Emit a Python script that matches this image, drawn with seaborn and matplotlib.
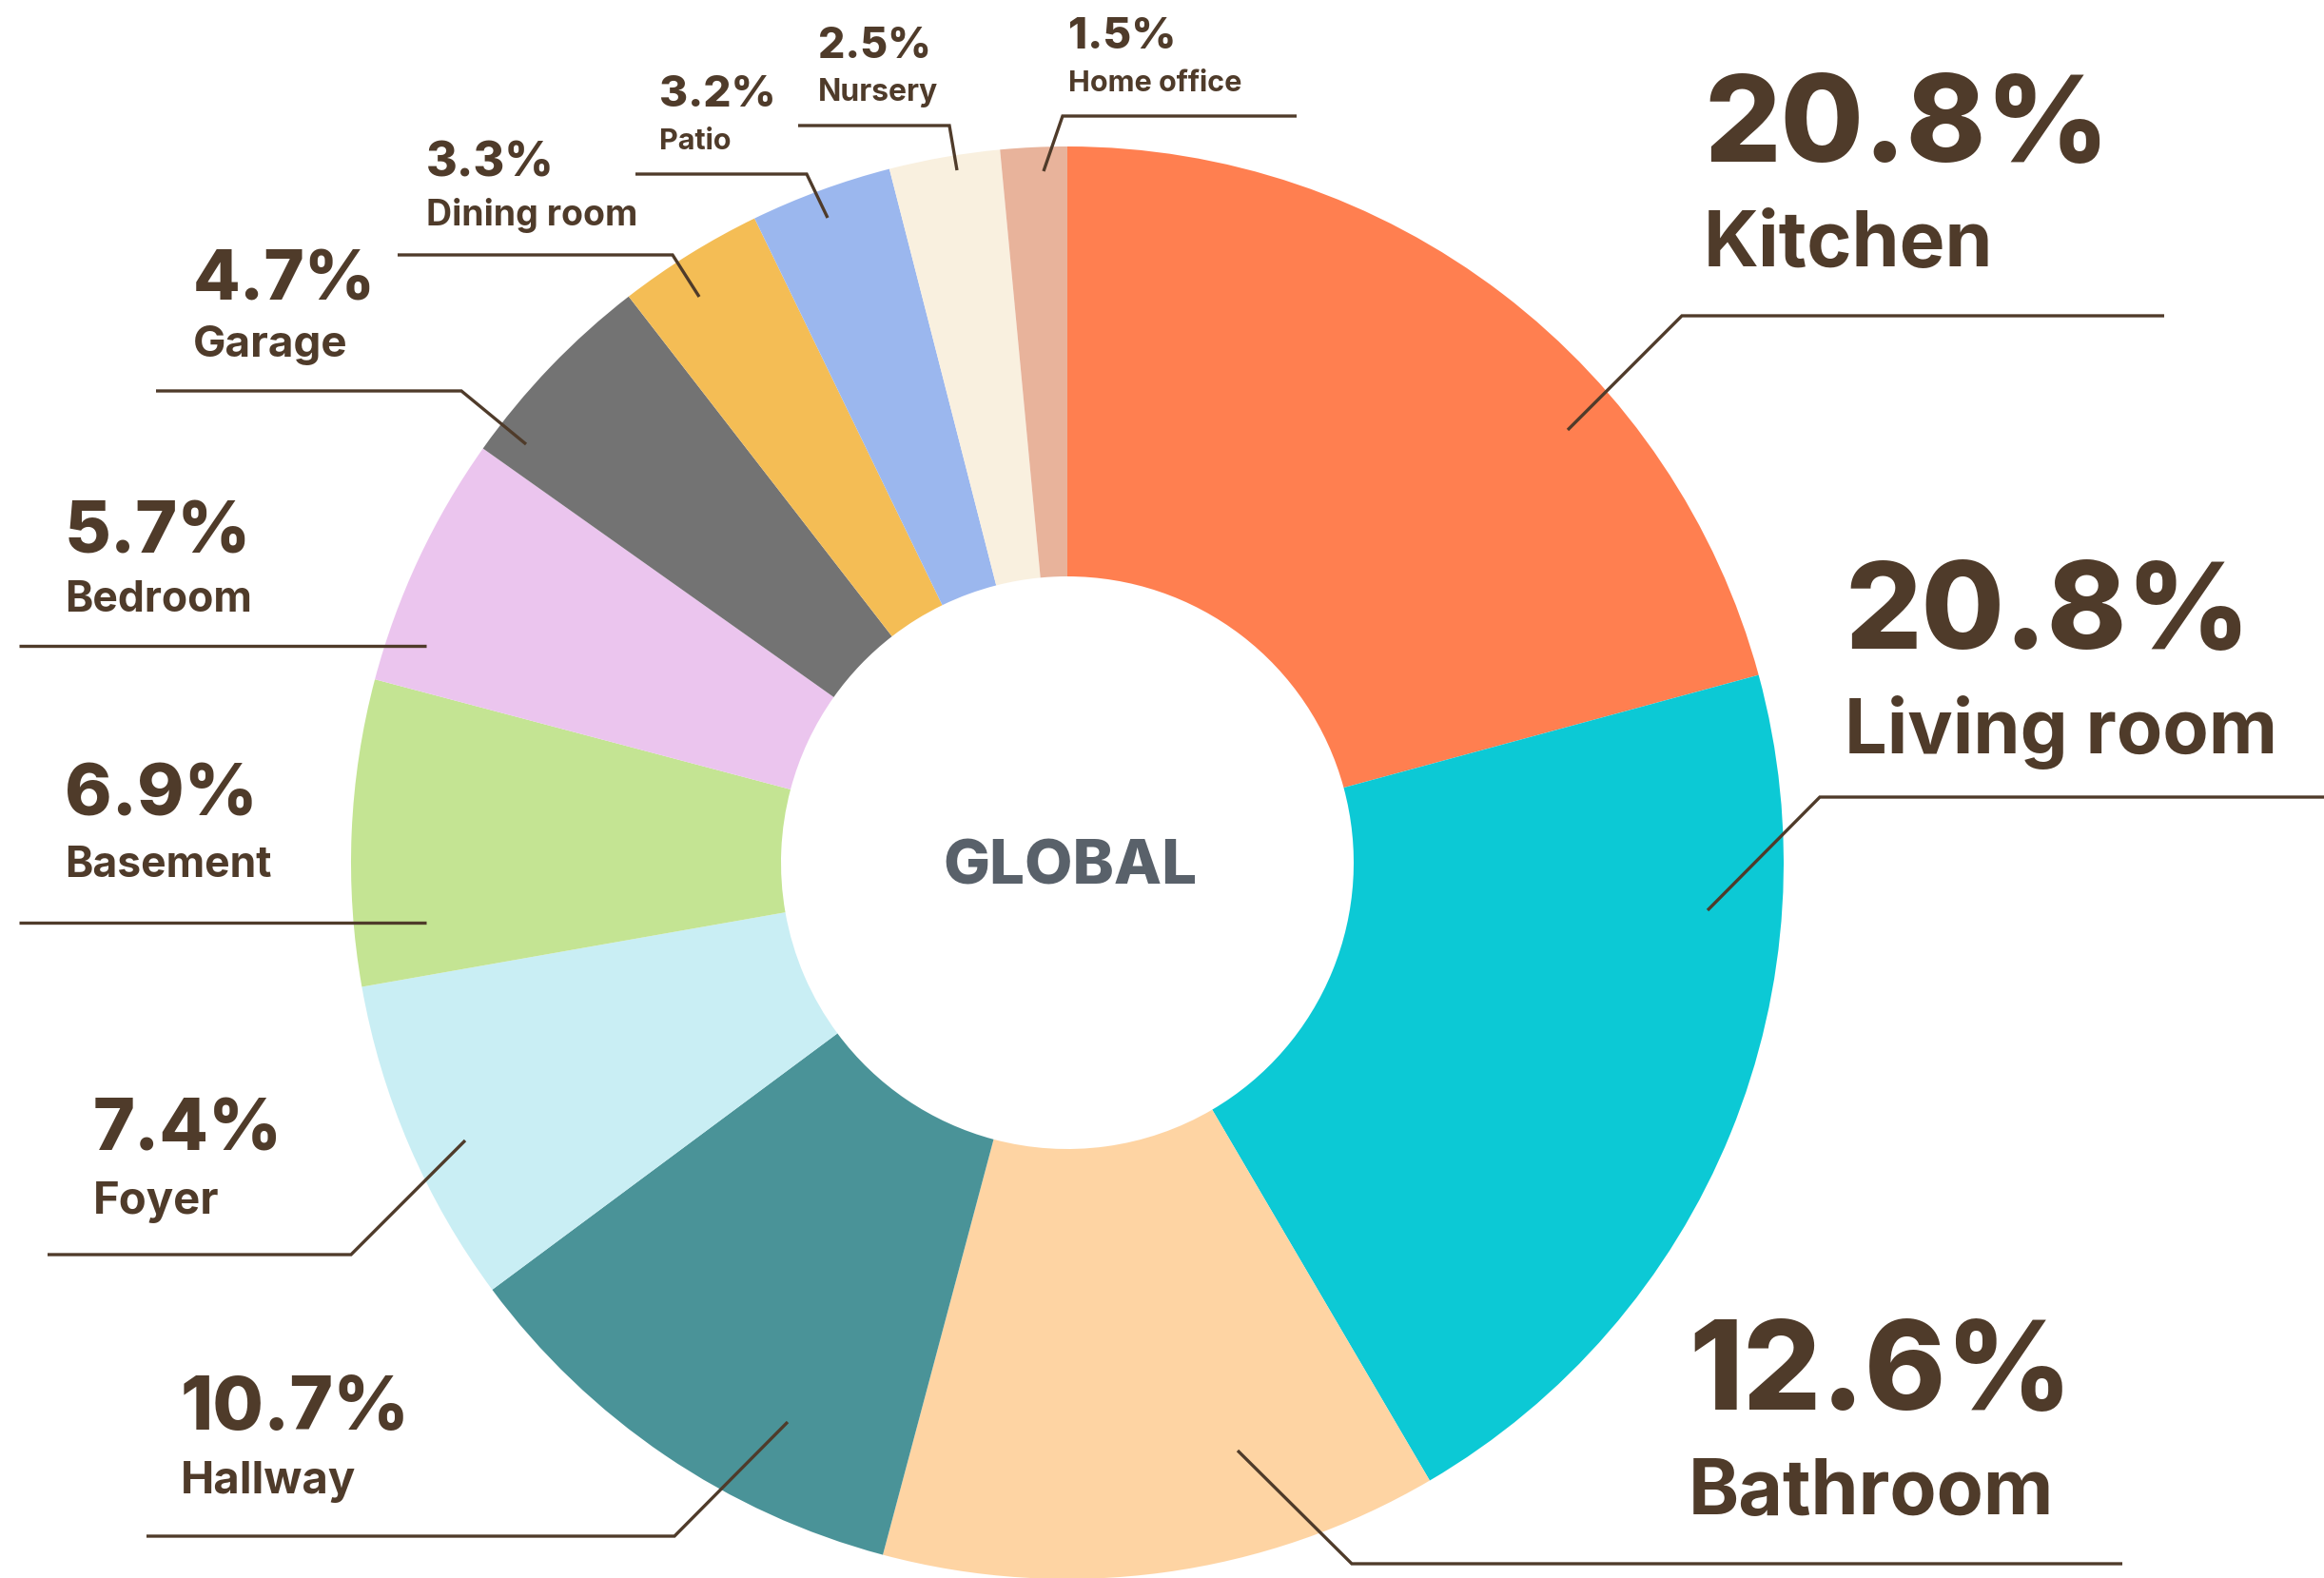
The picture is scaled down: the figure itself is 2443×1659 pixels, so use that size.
import matplotlib
matplotlib.use("Agg")
import matplotlib.pyplot as plt
import seaborn as sns

# ---- data ----
categories = ["Kitchen", "Living room", "Bathroom", "Hallway", "Foyer", "Basement",
              "Bedroom", "Garage", "Dining room", "Patio", "Nursery", "Home office"]
shares = [20.8, 20.8, 12.6, 10.7, 7.4, 6.9, 5.7, 4.7, 3.3, 3.2, 2.5, 1.5]
pct_labels = ["20.8%", "20.8%", "12.6%", "10.7%", "7.4%", "6.9%",
              "5.7%", "4.7%", "3.3%", "3.2%", "2.5%", "1.5%"]
colors = ["#FF7F50", "#0CC9D5", "#FED4A3", "#4A9398", "#C9EEF4", "#C4E493",
          "#EBC5EE", "#737373", "#F4BD55", "#9BB7EE", "#F9F0DF", "#E8B39B"]
center_label = "GLOBAL"

# ---- layout (image pixel coords, y down) ----
W, H = 2443, 1659
pie_cx, pie_cy, pie_r, hole_r = 1122, 907, 753, 301
# (x_left, pct_baseline, name_baseline, pct_size, name_size)
label_layout = [
    (1791, 170, 280, 91, 58),
    (1939, 682, 792, 91, 57),
    (1775, 1482, 1592, 93, 58),
    (190, 1503, 1570, 56, 34),
    (98, 1210, 1276, 54, 34),
    (68, 858, 922, 54, 32),
    (68, 581, 643, 54, 32),
    (203, 316, 375, 52, 33),
    (448, 186, 237, 36, 27),
    (693, 112, 157, 33, 22),
    (860, 61, 106, 32, 23),
    (1123, 51, 96, 33, 22),
]
leader_layout = [
    [(1648, 452), (1768, 332), (2275, 332)],
    [(1795, 957), (1913, 838), (2443, 838)],
    [(1301, 1525), (1421, 1644), (2231, 1644)],
    [(828, 1495), (709, 1615), (154, 1615)],
    [(489, 1199), (369, 1319), (50, 1319)],
    [(448, 970), (20, 970)],
    [(448, 679), (20, 679)],
    [(553, 467), (485, 411), (164, 411)],
    [(735, 312), (707, 268), (418, 268)],
    [(870, 229), (848, 183), (668, 183)],
    [(1006, 179), (998, 132), (839, 132)],
    [(1097, 180), (1117, 122), (1363, 122)],
]

TEXT = "#4F3B2A"

sns.set_theme(style="white")
plt.rcParams["font.family"] = ["Inter", "DejaVu Sans"]

fig = plt.figure(figsize=(W / 100, H / 100), dpi=100)
fig.patch.set_facecolor("white")
ax = fig.add_axes([0, 0, 1, 1])

def Y(y):
    return H - y

ax.pie(shares, colors=colors, startangle=90, counterclock=False,
       center=(pie_cx, Y(pie_cy)), radius=pie_r,
       wedgeprops=dict(width=pie_r - hole_r, linewidth=0, antialiased=True),
       frame=True)
ax.set_xlim(0, W)
ax.set_ylim(0, H)
ax.set_aspect("equal")
ax.axis("off")

for (x, yp, yn, sp, sn), pct, name in zip(label_layout, pct_labels, categories):
    ax.text(x, Y(yp), pct, fontsize=sp, fontweight="heavy", color=TEXT,
            ha="left", va="baseline")
    ax.text(x, Y(yn), name, fontsize=sn, fontweight="bold", color=TEXT,
            ha="left", va="baseline")

for pts in leader_layout:
    xs = [p[0] for p in pts]
    ys = [Y(p[1]) for p in pts]
    ax.plot(xs, ys, color=TEXT, lw=2.4, solid_capstyle="butt",
            solid_joinstyle="miter")

ax.text(pie_cx + 3, Y(930), center_label, fontsize=47, fontweight="heavy",
        color="#59616A", ha="center", va="baseline")

fig.savefig("out.png", dpi=100, facecolor="white")
